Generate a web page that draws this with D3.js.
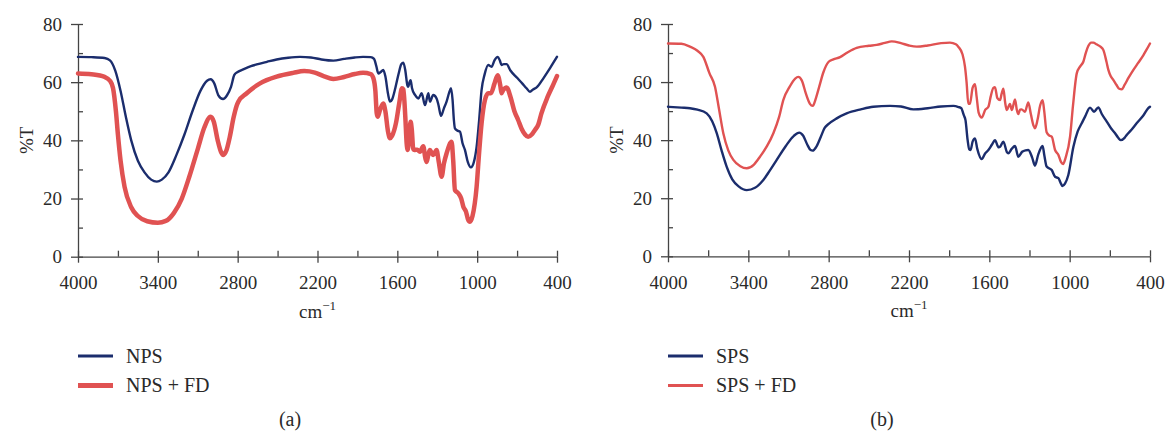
<!DOCTYPE html>
<html>
<head>
<meta charset="utf-8">
<script src="https://cdn.jsdelivr.net/npm/d3@7"></script>
<style>
  html, body { margin: 0; padding: 0; background: #fff; }
  svg { display: block; }
</style>
</head>
<body>
<svg id="chart" width="1167" height="434"></svg>
<script>
// ---------- DATA ----------
const xMajorTicks = [4000, 3400, 2800, 2200, 1600, 1000, 400];
const xMinorTicks = [3700, 3100, 2500, 1900, 1300, 700];
const yMajorTicks = [0, 20, 40, 60, 80];
const yMinorTicks = [10, 30, 50, 70];

const seriesNamesA = ["NPS", "NPS + FD"];
const seriesNamesB = ["SPS", "SPS + FD"];

// [wavenumber (cm^-1), %T]
const nps = [
  [4000,68.7],[3900,68.6],[3800,68.3],[3760,67.5],[3720,64],[3680,57],[3640,48],[3600,40],
  [3550,33],[3500,29],[3450,26.5],[3408,25.8],[3370,26.5],[3320,29],[3260,35],[3200,42],
  [3140,50],[3080,57],[3030,60.5],[3003,61],[2975,59.5],[2945,55.5],[2910,54.2],[2880,55.5],
  [2850,58.4],[2825,62.5],[2800,63.5],[2758,64.4],[2700,65.5],[2657,66.1],[2580,67],[2507,67.8],
  [2420,68.4],[2332,68.7],[2250,68.5],[2170,67.8],[2081,67.4],[2000,68],[1920,68.5],[1858,68.7],
  [1800,68.6],[1775,68],[1758,65.5],[1743,63],[1725,63.5],[1706,64.2],[1690,62],[1670,56],
  [1655,53.3],[1640,54],[1615,58],[1590,63],[1570,66.2],[1555,66.7],[1540,64],[1525,59],
  [1518,58.4],[1508,60],[1500,60.7],[1490,58],[1467,55.6],[1442,54.4],[1417,56.2],[1392,52.1],
  [1367,56.2],[1355,53.3],[1330,55.6],[1305,54.4],[1290,52],[1272,48.4],[1250,51],[1230,53.3],
  [1210,56.5],[1197,57.9],[1185,54],[1175,47],[1167,44.1],[1150,43.4],[1129,43],[1110,39],
  [1092,36.7],[1070,32.5],[1047,30.7],[1025,32.5],[1004,37.8],[985,47],[967,57.3],[945,62.5],
  [917,65.9],[892,65.3],[870,67.5],[846,68.7],[830,67.5],[817,65.9],[800,66.2],[779,66.2],
  [750,64],[700,61.5],[660,59.5],[629,57.9],[603,56.7],[580,57.5],[553,58.2],[500,61.5],
  [450,65],[400,68.7]
];

const npsFd = [
  [4000,63],[3900,62.7],[3800,61.8],[3760,60.5],[3737,58],[3715,50],[3700,42],[3680,33],
  [3650,24],[3600,17],[3550,14],[3480,12.2],[3400,11.7],[3340,12.3],[3280,15],[3220,20],
  [3160,28],[3100,37],[3050,44.5],[3003,48.1],[2980,46.5],[2950,40],[2925,36],[2908,35],
  [2885,36.5],[2860,41],[2830,48],[2807,52],[2795,53.3],[2732,56.2],[2632,59.6],[2507,61.9],
  [2382,63.2],[2300,63.8],[2220,63.3],[2150,62],[2081,61.1],[2000,61.8],[1920,62.8],[1858,63.2],
  [1800,62.8],[1781,61.5],[1765,57],[1755,49.3],[1748,48.1],[1730,50.5],[1706,52.7],[1690,50],
  [1670,43],[1655,40.7],[1640,41.5],[1610,46],[1585,53],[1565,57.9],[1555,57.5],[1540,48],
  [1530,39],[1522,36.7],[1510,42],[1500,46.4],[1492,44],[1480,37],[1472,36.7],[1450,36.8],
  [1430,36.1],[1405,38],[1390,34],[1380,32.6],[1365,35.5],[1355,36.7],[1340,35.5],[1330,35],
  [1305,36.7],[1290,33],[1267,27.5],[1250,32],[1230,35.5],[1192,39.5],[1180,33],[1167,22.9],
  [1142,21.8],[1120,20],[1104,17.2],[1084,15.5],[1070,13],[1054,12],[1035,14],[1004,24.1],
  [985,36],[967,45.8],[942,53.8],[917,56.2],[897,56.2],[870,59.5],[846,62.4],[825,58.5],
  [817,56.2],[804,57.3],[779,58.2],[750,55],[720,50],[692,47],[667,44.1],[640,42],
  [617,41.2],[590,42],[567,43.5],[540,45.5],[517,49.3],[470,55],[430,59],[400,62.1]
];

const sps = [
  [4000,51.5],[3900,51.2],[3836,51],[3780,50.5],[3711,49.2],[3670,46.5],[3636,42.4],[3600,36.5],
  [3562,30.9],[3520,26.5],[3470,24],[3412,22.8],[3350,23.6],[3288,26.3],[3240,29.5],[3188,33.2],
  [3120,38],[3060,41.5],[3020,42.6],[2990,41.5],[2960,38.5],[2935,36.6],[2919,36.4],[2895,37.5],
  [2860,41],[2830,44.2],[2800,45.6],[2740,47.5],[2666,49.2],[2560,50.6],[2467,51.5],[2342,51.8],
  [2260,51.6],[2168,50.6],[2060,51],[1960,51.6],[1869,51.8],[1830,51.4],[1810,51],[1790,48.5],
  [1778,46.9],[1762,40],[1750,36.8],[1740,36.6],[1725,39.5],[1707,40.6],[1690,37],[1657,33.5],
  [1630,35.5],[1607,36.6],[1580,38.5],[1558,40],[1530,37.5],[1520,37.7],[1495,39.5],[1470,36],
  [1458,35.5],[1433,37],[1408,38],[1384,34.3],[1355,36],[1330,36.5],[1309,36.6],[1280,34],
  [1259,31.2],[1235,35],[1202,38],[1190,35],[1172,30.9],[1134,29.7],[1109,27.4],[1084,26.9],
  [1065,25],[1054,24.2],[1035,25],[1010,28],[972,37.7],[940,43],[910,45.8],[885,48.1],
  [848,51.2],[818,49.8],[786,51.3],[760,49],[723,46.4],[690,44],[661,42.4],[640,41],
  [619,40],[590,40.8],[574,41.8],[540,43.5],[500,45.8],[450,48.5],[413,51],[400,51.5]
];

const spsFd = [
  [4000,73.3],[3900,73.2],[3836,72.2],[3780,70.8],[3736,68.7],[3690,63],[3649,58.4],[3620,51],
  [3587,42.4],[3550,36.5],[3512,33.2],[3460,31],[3412,30.3],[3360,31.5],[3313,34.3],[3260,38],
  [3213,42.4],[3170,48],[3139,53.8],[3090,58.5],[3050,61.2],[3027,61.8],[3000,60.5],[2970,56],
  [2940,52.5],[2919,51.8],[2895,54.5],[2870,58.5],[2840,63.3],[2800,67],[2765,67.8],[2715,68.6],
  [2660,70.2],[2591,71.8],[2500,72.5],[2442,72.8],[2380,73.5],[2329,74],[2260,73.4],[2200,72.6],
  [2142,72.2],[2060,72.6],[1960,73.4],[1894,73.6],[1850,73],[1832,72.2],[1800,69.5],[1782,65.3],
  [1770,60],[1757,52.5],[1745,52.5],[1725,58],[1707,59.3],[1695,55],[1680,49.5],[1657,47.8],
  [1630,50.5],[1607,51.5],[1590,55],[1570,58],[1558,58.2],[1540,54.5],[1520,53.8],[1508,56],
  [1495,57.7],[1482,53],[1470,50.4],[1446,52.5],[1432,50.4],[1408,54],[1395,50.5],[1384,49],
  [1370,50.5],[1359,50.6],[1334,49.8],[1309,53],[1290,49],[1270,45],[1259,44.1],[1240,47],
  [1220,52],[1202,53.8],[1190,50],[1172,42.7],[1150,41.5],[1134,41.2],[1109,36.6],[1084,34.9],
  [1065,32.5],[1049,31.8],[1030,34],[997,41.2],[975,52],[947,63],[920,65.5],[898,67],
  [880,70],[860,72.5],[840,73.6],[823,73.6],[800,73],[770,72.2],[748,71],[725,67],
  [711,64.2],[693,62],[673,60.7],[650,59],[630,57.7],[611,57.5],[590,59],[560,61.5],
  [524,64.2],[490,66.5],[449,69.3],[430,70.8],[400,73.3]
];

// ---------- DRAW ----------
const NAVY = "#1b2d6d";
const RED = "#e05252";
const FONT = "'Liberation Serif', 'Times New Roman', Times, 'DejaVu Serif', serif";
const TEXTCOL = "#2a2a2a";
const svg = d3.select("#chart");

function styleText(sel, size) {
  return sel.style("font-family", FONT).style("font-size", size + "px").style("fill", TEXTCOL);
}

function drawPanel(cfg) {
  const x = d3.scaleLinear().domain([4000, 400]).range([cfg.x0, cfg.x1]);
  const y = d3.scaleLinear().domain([0, 80]).range([cfg.yBottom, cfg.yTop]);
  const g = svg.append("g");

  // inward ticks (major + minor), no domain
  const xIn = g.append("g").attr("transform", `translate(0,${cfg.yBottom})`)
    .call(d3.axisBottom(x).tickValues(xMajorTicks.concat(xMinorTicks)).tickSize(-6).tickSizeOuter(0).tickFormat(""));
  xIn.select(".domain").remove();
  const yIn = g.append("g").attr("transform", `translate(${cfg.x0},0)`)
    .call(d3.axisLeft(y).tickValues(yMajorTicks.concat(yMinorTicks)).tickSize(-5).tickSizeOuter(0).tickFormat(""));
  yIn.select(".domain").remove();

  // outward major ticks with labels
  g.append("g").attr("transform", `translate(0,${cfg.yBottom})`)
    .call(d3.axisBottom(x).tickValues(xMajorTicks).tickSize(6).tickSizeOuter(0).tickPadding(13).tickFormat(d3.format("d")));
  g.append("g").attr("transform", `translate(${cfg.x0},0)`)
    .call(d3.axisLeft(y).tickValues(yMajorTicks).tickSize(7).tickSizeOuter(0).tickPadding(9).tickFormat(d3.format("d")));

  g.selectAll(".tick line, .domain").attr("stroke", "#444").attr("stroke-width", 1.3);
  styleText(g.selectAll(".tick text"), 19);

  // y label
  styleText(g.append("text")
    .attr("transform", `translate(${cfg.x0 - 52},${(cfg.yTop + cfg.yBottom) / 2}) rotate(-90)`)
    .attr("text-anchor", "middle").attr("dy", "0.35em"), 19).text("%T");

  // x label
  const xl = styleText(g.append("text")
    .attr("x", (cfg.x0 + cfg.x1) / 2).attr("y", cfg.yBottom + 61)
    .attr("text-anchor", "middle"), 19);
  xl.append("tspan").text("cm");
  xl.append("tspan").style("font-size", "13px").attr("dy", -8).text("\u22121");

  // lines
  const line = d3.line().x(d => x(d[0])).y(d => y(d[1])).curve(d3.curveMonotoneX);
  cfg.series.forEach(s => {
    g.append("path").datum(s.data)
      .attr("fill", "none").attr("stroke", s.color).attr("stroke-width", s.width)
      .attr("stroke-linejoin", "round").attr("stroke-linecap", "round")
      .attr("d", line);
  });

  // legend
  cfg.series.forEach((s, i) => {
    const ly = 356 + i * 29.5;
    g.append("line").attr("x1", cfg.x0).attr("x2", cfg.x0 + 35)
      .attr("y1", ly).attr("y2", ly)
      .attr("stroke", s.color).attr("stroke-width", s.legendWidth);
    styleText(g.append("text").attr("x", cfg.x0 + 48).attr("y", ly).attr("dy", "0.33em"), 20).text(s.name);
  });

  // panel caption
  styleText(g.append("text").attr("x", cfg.captionX).attr("y", 426)
    .attr("text-anchor", "middle"), 20).text(cfg.caption);
}

drawPanel({
  x0: 78, x1: 557, yTop: 24, yBottom: 256.7, caption: "(a)", captionX: 290,
  series: [
    { name: seriesNamesA[0], data: nps, color: NAVY, width: 2.4, legendWidth: 3 },
    { name: seriesNamesA[1], data: npsFd, color: RED, width: 4.5, legendWidth: 5 }
  ]
});

drawPanel({
  x0: 668, x1: 1150, yTop: 24, yBottom: 256.3, caption: "(b)", captionX: 882,
  series: [
    { name: seriesNamesB[0], data: sps, color: NAVY, width: 2.4, legendWidth: 3.2 },
    { name: seriesNamesB[1], data: spsFd, color: RED, width: 2.4, legendWidth: 3.2 }
  ]
});
</script>
</body>
</html>
